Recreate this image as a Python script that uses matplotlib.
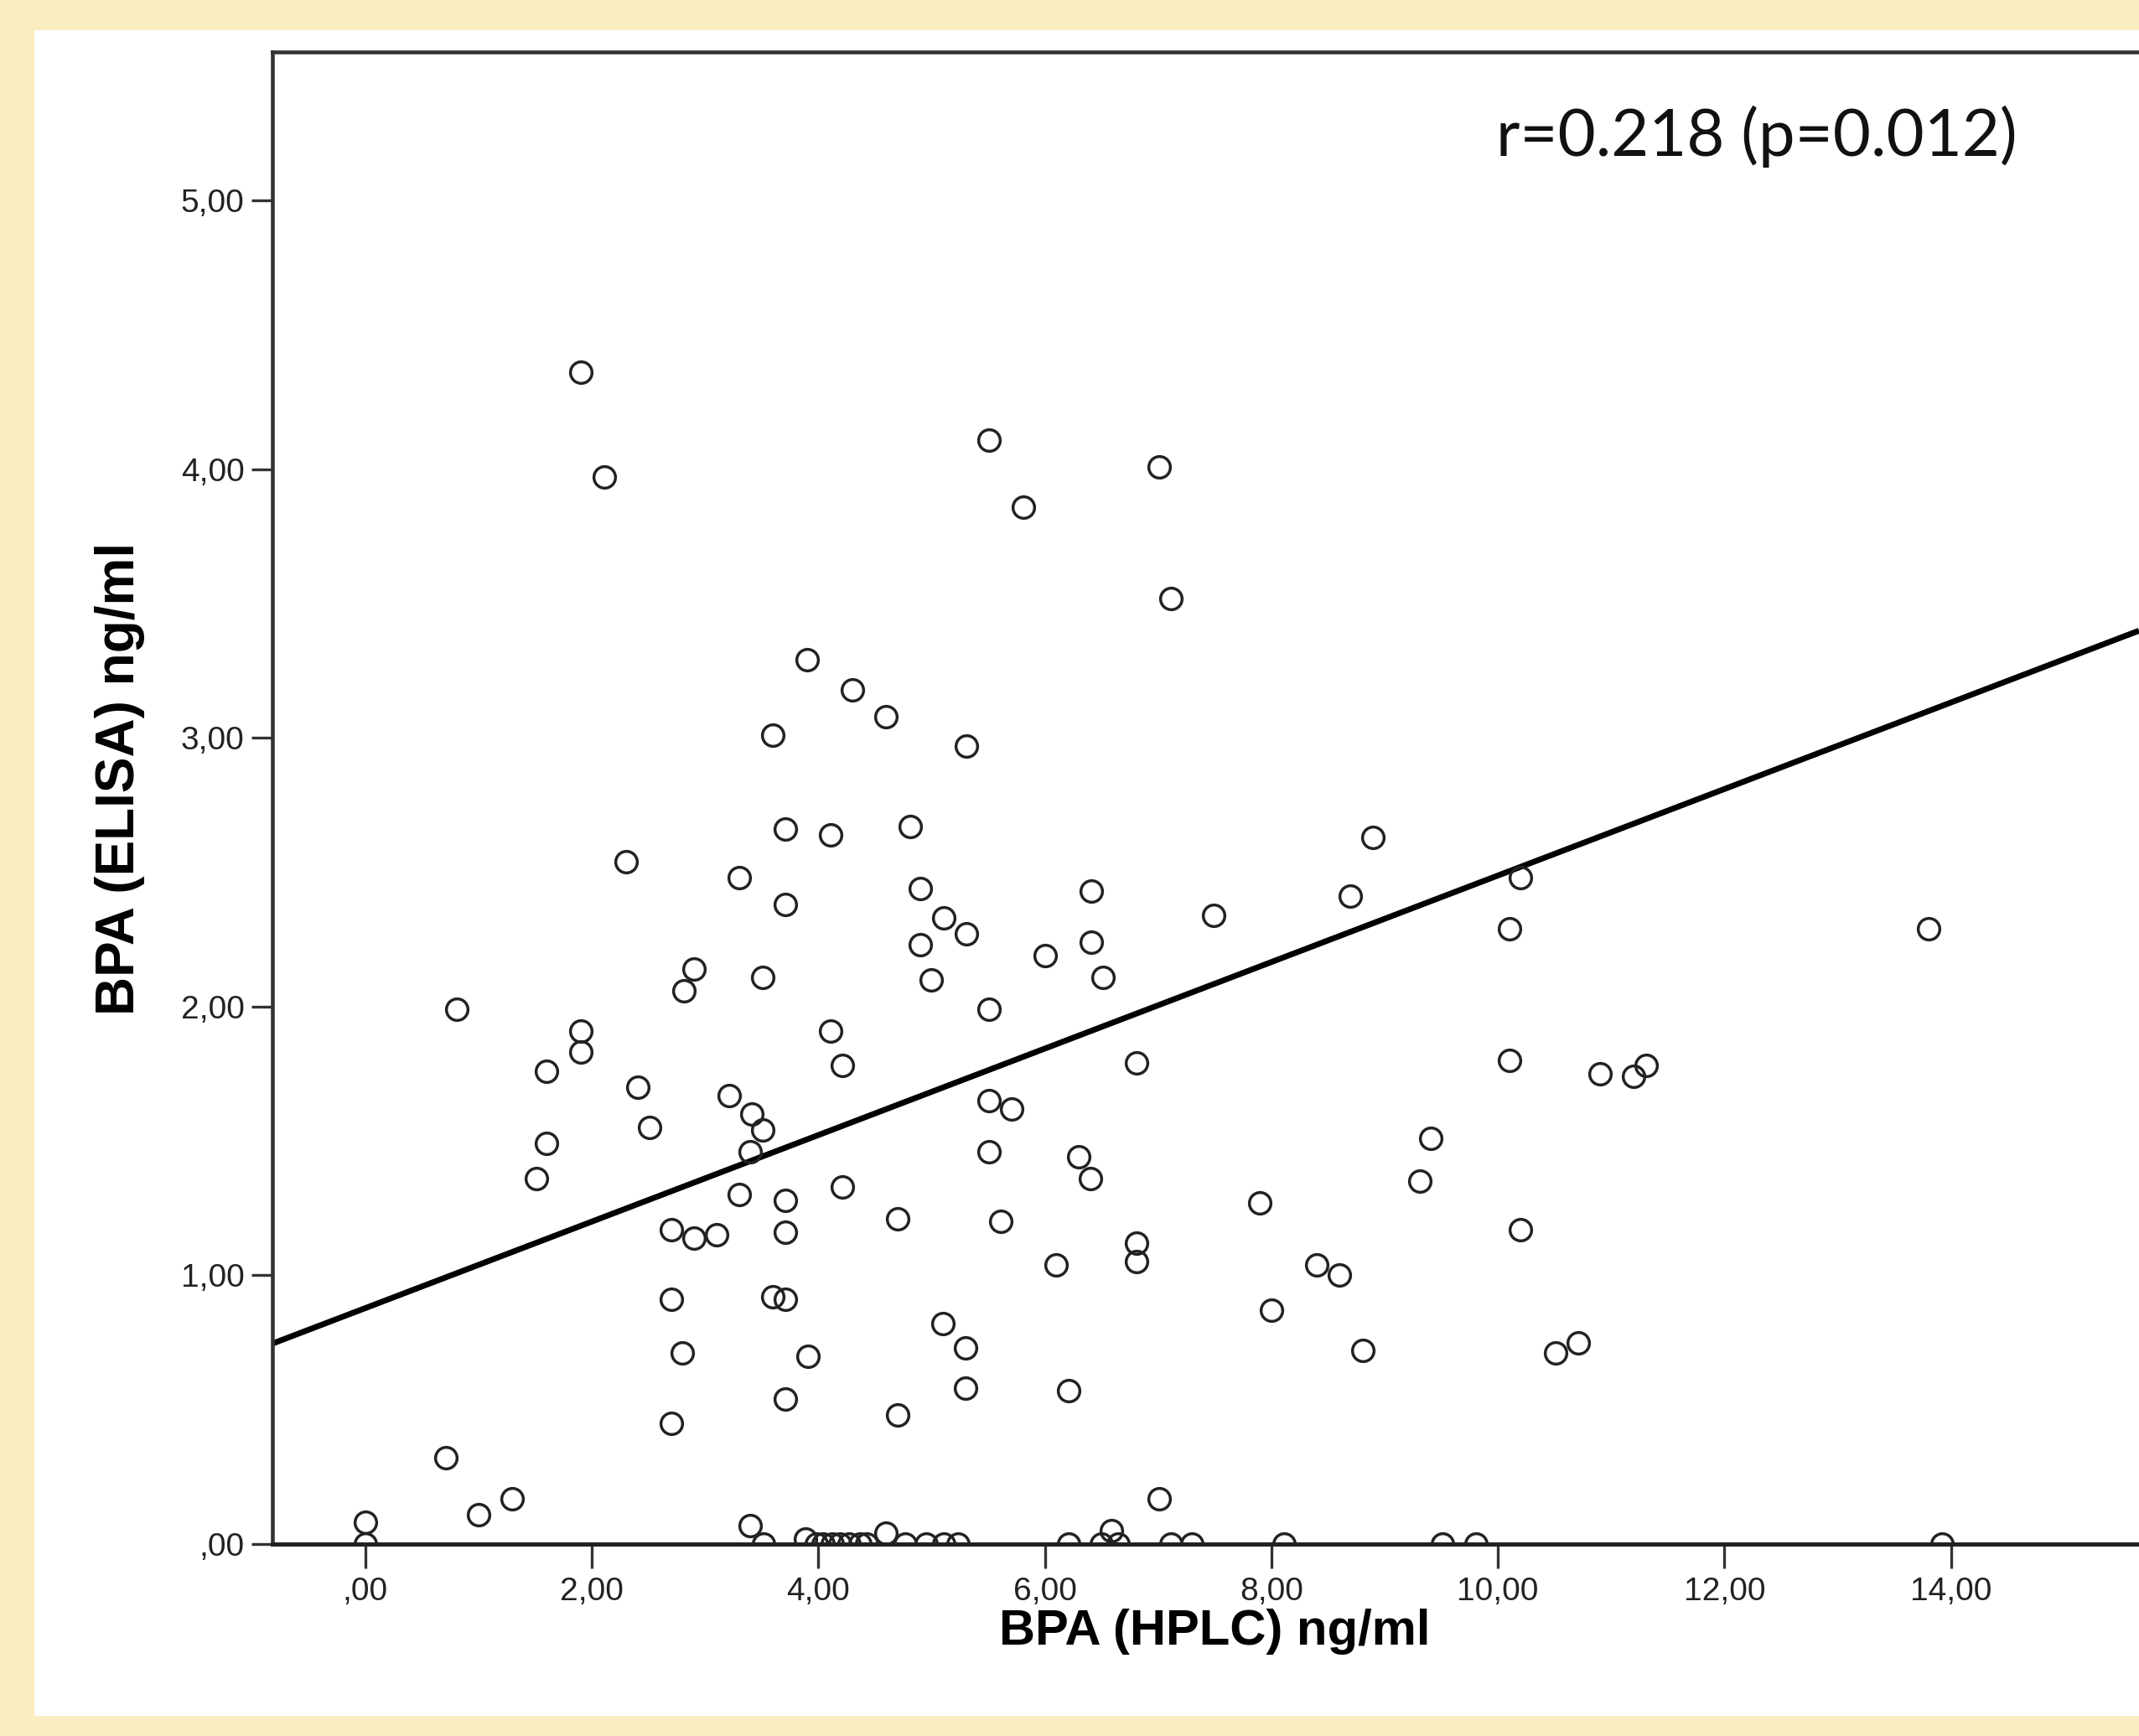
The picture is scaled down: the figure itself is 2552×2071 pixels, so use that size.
import numpy as np
import matplotlib
matplotlib.use("Agg")
import matplotlib.pyplot as plt
from matplotlib.patches import Rectangle
from matplotlib.ticker import FuncFormatter

plt.rcParams['font.family'] = ['Liberation Sans', 'DejaVu Sans']

# BPA by HPLC (x) and by ELISA (y), ng/ml
hplc = [1.90, 2.11, 5.51, 5.81, 7.01, 7.11, 3.90, 4.30, 4.60, 3.60,
        5.31, 3.71, 4.11, 4.81, 2.30, 3.30, 3.71, 4.90, 5.11, 5.31,
        4.90, 5.00, 6.00, 6.41, 6.41, 6.51, 7.49, 8.70, 8.90, 10.20,
        10.10, 13.80, 0.81, 2.90, 2.81, 3.51, 1.90, 1.90, 4.11, 4.21,
        5.51, 1.60, 2.41, 3.21, 3.41, 3.51, 2.51, 1.60, 3.40, 1.51,
        3.30, 3.71, 4.21, 3.71, 2.70, 2.90, 3.10, 4.70, 5.51, 5.71,
        5.51, 5.61, 6.30, 6.40, 6.81, 6.81, 6.81, 6.10, 7.90, 8.40,
        8.60, 8.00, 8.81, 9.31, 9.41, 10.10, 10.20, 10.90, 11.20, 11.31,
        10.51, 10.71, 2.70, 3.60, 3.71, 2.80, 3.91, 3.71, 2.70, 4.70,
        5.10, 5.30, 5.30, 6.21, 0.71, 1.00, 1.30, 0.00, 0.00, 3.40,
        7.01, 6.59, 4.60, 3.89,
        3.52, 3.98, 4.04, 4.12, 4.19, 4.27, 4.37, 4.43, 4.77, 4.95,
        5.11, 5.23, 6.21, 6.50, 6.65, 7.11, 7.30, 8.11, 9.51, 9.81, 13.92]
elisa = [4.36, 3.97, 4.11, 3.86, 4.01, 3.52, 3.29, 3.18, 3.08, 3.01,
         2.97, 2.66, 2.64, 2.67, 2.54, 2.48, 2.38, 2.44, 2.33, 2.27,
         2.23, 2.10, 2.19, 2.43, 2.24, 2.11, 2.34, 2.41, 2.63, 2.48,
         2.29, 2.29, 1.99, 2.14, 2.06, 2.11, 1.91, 1.83, 1.91, 1.78,
         1.99, 1.76, 1.70, 1.67, 1.60, 1.54, 1.55, 1.49, 1.46, 1.36,
         1.30, 1.28, 1.33, 1.16, 1.17, 1.14, 1.15, 1.21, 1.65, 1.62,
         1.46, 1.20, 1.44, 1.36, 1.79, 1.12, 1.05, 1.04, 1.27, 1.04,
         1.00, 0.87, 0.72, 1.35, 1.51, 1.80, 1.17, 1.75, 1.74, 1.78,
         0.71, 0.75, 0.91, 0.92, 0.91, 0.71, 0.70, 0.54, 0.45, 0.48,
         0.82, 0.73, 0.58, 0.57, 0.32, 0.11, 0.17, 0.08, 0.00, 0.07,
         0.17, 0.05, 0.04, 0.02,
         0.00, 0.00, 0.00, 0.00, 0.00, 0.00, 0.00, 0.00, 0.00, 0.00,
         0.00, 0.00, 0.00, 0.00, 0.00, 0.00, 0.00, 0.00, 0.00, 0.00, 0.00]

# fitted line as drawn in the figure
fit_intercept = 0.878
fit_slope = 0.161

x_ticks = [0, 2, 4, 6, 8, 10, 12, 14]
y_ticks = [0, 1, 2, 3, 4, 5]
stat_text = "r=0.218 (p=0.012)"

W, H = 2552, 2071
fig = plt.figure(figsize=(W / 100, H / 100), dpi=100)
fig.patch.set_facecolor('#fbedc2')
fig.add_artist(Rectangle((41 / W, 1 - 2047 / H), 1 - 41 / W, (2047 - 36) / H,
                         transform=fig.transFigure, facecolor='white',
                         edgecolor='none', zorder=0))

ax = fig.add_axes([325 / W, 1 - 1842 / H, 1 - 325 / W, (1842 - 62) / H])
ax.set_xlim(-0.82, 15.66)
ax.set_ylim(0, 5.553)

xs = np.array(ax.get_xlim())
ax.plot(xs, fit_intercept + fit_slope * xs, color='black', lw=5,
        solid_capstyle='butt', zorder=3)
ax.plot(hplc, elisa, 'o', mfc='none', mec='#222222', ms=18.5, mew=2.5,
        zorder=4)


def comma_fmt(v, pos):
    s = f"{v:.2f}".replace('.', ',')
    if s.startswith('0'):
        s = s[1:]
    return s


ax.set_xticks(x_ticks)
ax.set_yticks(y_ticks)
ax.xaxis.set_major_formatter(FuncFormatter(comma_fmt))
ax.yaxis.set_major_formatter(FuncFormatter(comma_fmt))
ax.tick_params(axis='x', length=21, width=2.4, pad=7, labelsize=28,
               color='#333333', labelcolor='#222222')
ax.tick_params(axis='y', length=18, width=2.4, pad=6, labelsize=28,
               color='#333333', labelcolor='#222222')

ax.spines['right'].set_visible(False)
for side in ['left', 'top']:
    ax.spines[side].set_linewidth(3.3)
    ax.spines[side].set_color('#333333')
ax.spines['bottom'].set_linewidth(3.6)
ax.spines['bottom'].set_color('#222222')
for sp in ax.spines.values():
    sp.set_zorder(5)

ax.set_xlabel("BPA (HPLC) ng/ml", fontsize=43, fontweight='bold', va='center')
ax.set_ylabel("BPA (ELISA) ng/ml", fontsize=46, fontweight='bold', va='center')
ax.xaxis.set_label_coords(0.5047, -0.0585)
ax.yaxis.set_label_coords(-0.0815, 0.513)

fig.text(1785 / W, 1 - 163 / H, stat_text, fontsize=56, family='Lato',
         ha='left', va='center', color='#111111')

fig.savefig('out.png', dpi=100)
